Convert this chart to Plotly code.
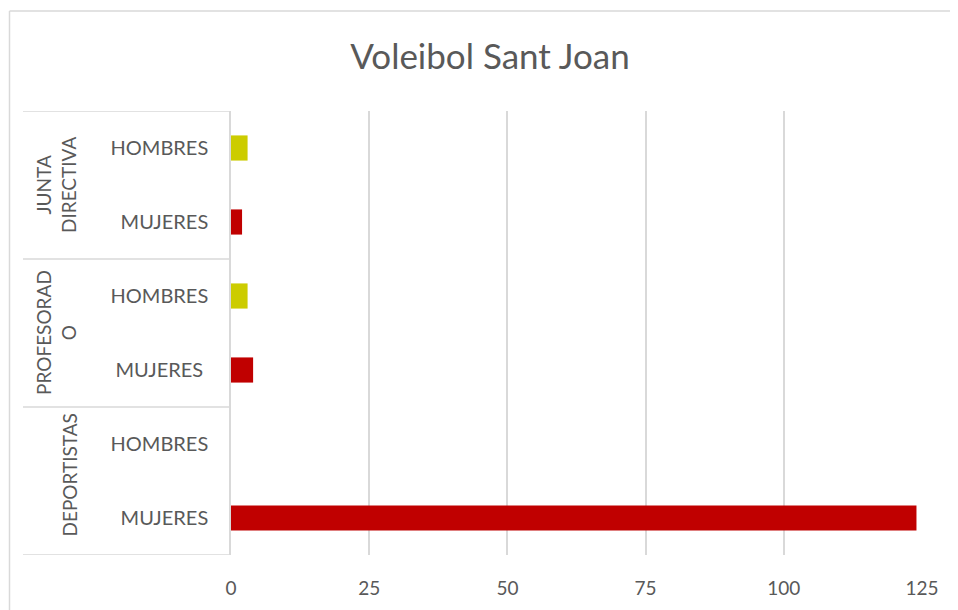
import plotly.graph_objects as go

# Data (bottom to top)
groups = ["DEPORTISTAS", "DEPORTISTAS", "PROFESORADO", "PROFESORADO", "JUNTA DIRECTIVA", "JUNTA DIRECTIVA"]
subcats = ["MUJERES", "HOMBRES", "MUJERES\u00a0", "HOMBRES", "MUJERES", "HOMBRES"]
values = [124, 0, 4, 3, 2, 3]
group_labels = ["DEPORTISTAS", "PROFESORAD<br>O", "JUNTA<br>DIRECTIVA"]
x_ticks = [0, 25, 50, 75, 100, 125]

RED = "#C00000"
YELLOW = "#CCCC00"
colors = [RED if s.strip().startswith("MUJERES") else YELLOW for s in subcats]
cat_ids = [f"{g}|{i}" for i, g in enumerate(groups)]

FONT = "Lato"
GREY = "#595959"
LINE = "#D9D9D9"

# page offset (body margin) compensation
OFF = 8
W, H = 958 - OFF, 610 - OFF
L, T = 231 - OFF, 111 - OFF
R = W - (922 - OFF)
B = H - (555 - OFF)
pw, ph = W - L - R, H - T - B

def px_x(p):
    return (p - OFF - L) / pw

def px_y(p):
    return (H - B - (p - OFF)) / ph

fig = go.Figure(go.Bar(
    y=cat_ids, x=values, orientation="h",
    marker=dict(color=colors, line=dict(width=0)),
    width=0.34,
))

shapes = []
# chart frame: left and top edges (right/bottom edges lie outside the picture)
shapes.append(dict(type="line", xref="paper", yref="paper",
                   x0=px_x(9.5), x1=px_x(9.5), y0=px_y(640), y1=px_y(11),
                   line=dict(color=LINE, width=1.5), layer="below"))
shapes.append(dict(type="line", xref="paper", yref="paper",
                   x0=px_x(9.5), x1=px_x(990), y0=px_y(11), y1=px_y(11),
                   line=dict(color=LINE, width=1.5), layer="below"))
n_groups = len(group_labels)
for k in range(n_groups + 1):
    yb = 2 * k - 0.5
    shapes.append(dict(type="line", xref="paper", yref="y",
                       x0=px_x(23), x1=0, y0=yb, y1=yb,
                       line=dict(color=LINE, width=1.5)))

annotations = []
for k, lab in enumerate(group_labels):
    annotations.append(dict(
        text=lab, xref="paper", yref="y", x=px_x(82), y=2 * k + 0.5,
        xanchor="right", yanchor="middle", textangle=-90, showarrow=False,
        yshift=6 if k == 0 else 0,
        font=dict(family=FONT, size=19, color=GREY), align="center"))

fig.update_layout(
    width=W, height=H,
    margin=dict(l=L, r=R, t=T, b=B),
    paper_bgcolor="white", plot_bgcolor="white",
    title=dict(text="Voleibol Sant Joan", x=(490 - OFF) / W, xanchor="center", xref="container",
               y=1 - (57 - OFF) / H, yanchor="middle", yref="container",
               font=dict(family=FONT, size=35, color=GREY)),
    showlegend=False,
    shapes=shapes,
    annotations=annotations,
    xaxis=dict(range=[0, 125], tickvals=x_ticks, showgrid=True, gridcolor=LINE, gridwidth=1.5,
               zeroline=False, showline=False, ticks="", ticklabelstandoff=20,
               tickfont=dict(family=FONT, size=19, color=GREY)),
    yaxis=dict(type="category", categoryorder="array", categoryarray=cat_ids,
               tickvals=cat_ids, ticktext=subcats, showgrid=False, zeroline=False,
               showline=True, linecolor=LINE, linewidth=1.5, ticks="",
               ticklabelstandoff=17, range=[-0.5, len(cat_ids) - 0.5],
               tickfont=dict(family=FONT, size=20, color=GREY)),
    font=dict(family=FONT, color=GREY),
)

fig.write_html("out.html")
